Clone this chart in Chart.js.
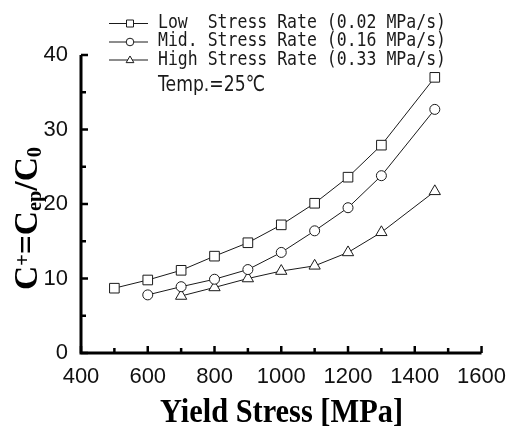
<!DOCTYPE html>
<html>
<head>
<meta charset="utf-8">
<script src="https://cdn.jsdelivr.net/npm/chart.js@4"></script>
<style>
  html, body { margin: 0; padding: 0; background: #fff; }
</style>
</head>
<body>
<canvas id="chart" width="517" height="435"></canvas>
<script>
// Yield stress (MPa) for each series
const lowX  = [500, 600, 700, 800, 900, 1000, 1100, 1200, 1300, 1460];
const midX  = [600, 700, 800, 900, 1000, 1100, 1200, 1300, 1460];
const highX = [700, 800, 900, 1000, 1100, 1200, 1300, 1460];

// C+ = Cep / C0
const lowY  = [8.7, 9.8, 11.1, 13.0, 14.8, 17.2, 20.1, 23.6, 27.9, 37.0];
const midY  = [7.8, 8.9, 9.9, 11.2, 13.5, 16.4, 19.5, 23.8, 32.7];
const highY = [7.65, 8.8, 10.0, 11.0, 11.7, 13.5, 16.2, 21.7];

const seriesLabels = [
  'Low  Stress Rate (0.02 MPa/s)',
  'Mid. Stress Rate (0.16 MPa/s)',
  'High Stress Rate (0.33 MPa/s)'
];
const noteText = 'Temp.=25\u2103';

const xTicks = [400, 600, 800, 1000, 1200, 1400, 1600];
const yTicks = [0, 10, 20, 30, 40];

const pairs = (xs, ys) => xs.map((x, i) => ({ x: x, y: ys[i] }));

const INK = '#1a1a1a';

// draw text squeezed horizontally so it spans the given width
function fitText(ctx, text, x, y, font, width) {
  ctx.save();
  ctx.font = font;
  const w = ctx.measureText(text).width;
  const s = width / w;
  ctx.translate(x, y);
  ctx.scale(s, 1);
  ctx.textAlign = 'left';
  ctx.textBaseline = 'alphabetic';
  ctx.fillText(text, 0, 0);
  ctx.restore();
}

function marker(ctx, style, x, y, r) {
  ctx.beginPath();
  if (style === 'rect') {
    ctx.rect(x - r, y - r, 2 * r, 2 * r);
  } else if (style === 'circle') {
    ctx.arc(x, y, r, 0, Math.PI * 2);
  } else {
    ctx.moveTo(x, y - r * 1.15);
    ctx.lineTo(x + r * 1.1, y + r * 0.75);
    ctx.lineTo(x - r * 1.1, y + r * 0.75);
    ctx.closePath();
  }
  ctx.fillStyle = '#fff';
  ctx.fill();
  ctx.stroke();
}

// inward ticks and the two axis lines
const axesPlugin = {
  id: 'axesInward',
  beforeDatasetsDraw(chart) {
    const { ctx, chartArea: a, scales: { x, y } } = chart;
    ctx.save();
    ctx.strokeStyle = '#000';
    ctx.lineWidth = 3;
    ctx.lineCap = 'butt';
    ctx.beginPath();
    ctx.moveTo(a.left, y.getPixelForValue(40));
    ctx.lineTo(a.left, a.bottom);
    ctx.lineTo(x.getPixelForValue(1600), a.bottom);
    ctx.stroke();
    ctx.lineWidth = 2.5;
    for (let v = 400; v <= 1600; v += 100) {
      const px = x.getPixelForValue(v);
      const len = (v % 200 === 0) ? 7 : 5;
      ctx.beginPath();
      ctx.moveTo(px, a.bottom);
      ctx.lineTo(px, a.bottom - len);
      ctx.stroke();
    }
    for (let v = 0; v <= 40; v += 5) {
      const py = y.getPixelForValue(v);
      const len = (v % 10 === 0) ? 7 : 5;
      ctx.beginPath();
      ctx.moveTo(a.left, py);
      ctx.lineTo(a.left + len, py);
      ctx.stroke();
    }
    ctx.restore();
  }
};

// legend block, note and axis titles
const textPlugin = {
  id: 'textBlock',
  afterDraw(chart) {
    const ctx = chart.ctx;
    ctx.save();
    ctx.fillStyle = INK;
    ctx.strokeStyle = INK;
    ctx.lineWidth = 1;
    const styles = ['rect', 'circle', 'triangle'];
    const lineY = [23.5, 42, 60];
    const baseY = [27.5, 46, 64.5];
    for (let i = 0; i < 3; i++) {
      ctx.beginPath();
      ctx.moveTo(109, lineY[i]);
      ctx.lineTo(148, lineY[i]);
      ctx.stroke();
      marker(ctx, styles[i], 130, lineY[i], i === 1 ? 3.8 : 3.5);
      ctx.fillStyle = INK;
      fitText(ctx, seriesLabels[i], 158, baseY[i], '20px "DejaVu Sans Mono"', 288);
    }
    fitText(ctx, noteText, 158, 91, '22px "DejaVu Sans"', 107);

    // x title
    ctx.fillStyle = '#000';
    fitText(ctx, 'Yield Stress [MPa]', 160, 421.5, 'bold 33px "Liberation Serif"', 243);

    // y title: C+ = Cep / C0
    const big = 'bold 33px "Liberation Serif"';
    const small = 'bold 20px "Liberation Serif"';
    const parts = [
      ['C', big, 0], ['+', small, -8], ['=', big, 0], ['C', big, 0],
      ['ep', small, 4], ['/', big, 0], ['C', big, 0], ['0', small, 4]
    ];
    let total = 0;
    parts.forEach(p => { ctx.font = p[1]; total += ctx.measureText(p[0]).width; });
    const sx = 143 / total;
    ctx.translate(37, 218.5);
    ctx.rotate(-Math.PI / 2);
    ctx.scale(sx, 1);
    let pos = -total / 2;
    ctx.textBaseline = 'alphabetic';
    ctx.textAlign = 'left';
    parts.forEach(p => {
      ctx.font = p[1];
      ctx.fillText(p[0], pos, p[2]);
      pos += ctx.measureText(p[0]).width;
    });
    ctx.restore();
  }
};

const lineDs = (label, data, style, radius) => ({
  label: label,
  data: data,
  borderColor: INK,
  borderWidth: 1,
  backgroundColor: '#fff',
  pointStyle: style,
  pointRadius: radius,
  pointHoverRadius: radius,
  pointBorderColor: INK,
  pointBackgroundColor: '#fff',
  pointBorderWidth: 1,
  tension: 0,
  fill: false
});

const tickFont = { family: '"Liberation Sans", Arial, sans-serif', size: 22 };

new Chart(document.getElementById('chart'), {
  type: 'line',
  data: {
    datasets: [
      lineDs(seriesLabels[0], pairs(lowX, lowY), 'rect', 6.8),
      lineDs(seriesLabels[1], pairs(midX, midY), 'circle', 5),
      lineDs(seriesLabels[2], pairs(highX, highY), 'triangle', 6.5)
    ]
  },
  options: {
    responsive: false,
    animation: false,
    devicePixelRatio: 1,
    layout: { padding: { top: 55, right: 29, left: 0, bottom: 0 } },
    plugins: { legend: { display: false }, tooltip: { enabled: false } },
    scales: {
      x: {
        type: 'linear',
        min: 400, max: 1600,
        afterBuildTicks(scale) { scale.ticks = xTicks.map(v => ({ value: v })); },
        afterFit(scale) { scale.height = 82; },
        grid: { display: false, drawTicks: false },
        border: { display: false },
        ticks: {
          padding: 11,
          color: '#111',
          font: tickFont,
          maxRotation: 0,
          callback: v => String(v)
        }
      },
      y: {
        min: 0, max: 40,
        afterBuildTicks(scale) { scale.ticks = yTicks.map(v => ({ value: v })); },
        afterFit(scale) { scale.width = 81; },
        grid: { display: false, drawTicks: false },
        border: { display: false },
        ticks: {
          padding: 13,
          color: '#111',
          font: tickFont,
          callback: v => String(v)
        }
      }
    }
  },
  plugins: [axesPlugin, textPlugin]
});
</script>
</body>
</html>
